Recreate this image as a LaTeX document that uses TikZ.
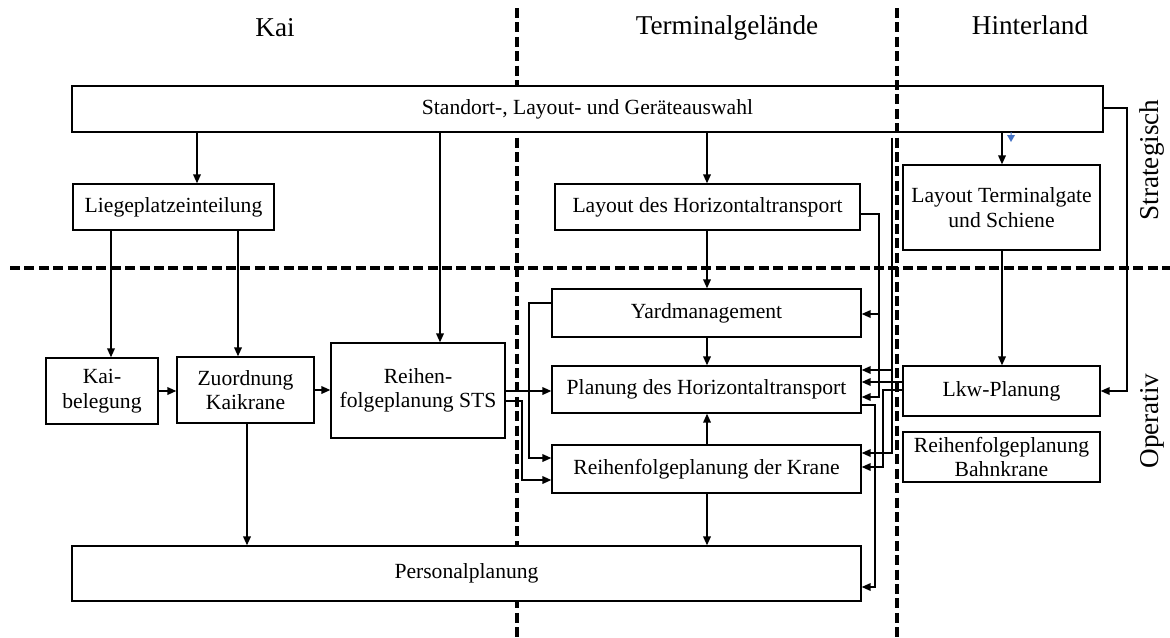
\documentclass[tikz,border=0pt]{standalone}
\usepackage{fontspec}
\setmainfont{Liberation Serif}
\usetikzlibrary{arrows.meta}
\definecolor{tipblue}{HTML}{4472C4}
\tikzset{
  box/.style={draw, line width=0.65pt, fill=white, inner sep=1pt, align=center,
              font=\fontsize{10.8}{12.2}\selectfont},
  arr/.style={line width=0.8pt, -{Triangle[length=4.5pt,width=3.8pt]}},
  divider/.style={line width=1.7pt, dash pattern=on 5pt off 2.2pt},
  zone/.style={font=\fontsize{13.6}{15}\selectfont},
}
% box from its corners (x1,y1)-(x2,y2), in pixel units
\newcommand\boxat[7][]{\node[box, #1, minimum width={(#5-#3)*0.5pt}, minimum height={(#6-#4)*0.5pt}]
  (#2) at ({(#3+#5)/2},{(#4+#6)/2}) {#7};}
\begin{document}
\begin{tikzpicture}[x=0.5pt, y=-0.5pt]
\useasboundingbox (0,0) rectangle (1170,637);

% zone dividers behind the boxes
\draw[divider] (517,8) -- (517,637);
\draw[divider] (10,268) -- (1170,268);

% zone labels
\node[zone] (zkai) at (275,28) {Kai};
\node[zone] (zterm) at (727,28) {Terminalgelände};
\node[zone] (zhint) at (1030,25) {Hinterland};
\node[zone, rotate=90] (zstrat) at (1152,160) {Strategisch};
\node[zone, rotate=90] (zop) at (1152,421) {Operativ};

% planning tasks
\boxat{std}{72}{86}{1103}{132}{Standort-, Layout- und Geräteauswahl}
\boxat{lp}{73}{184}{274}{230}{Liegeplatzeinteilung}
\boxat{lh}{555}{184}{860}{230}{Layout des Horizontaltransport}
\boxat{lt}{903}{165}{1100}{250}{Layout Terminalgate\\und Schiene}
\boxat{yd}{552}{289}{861}{337}{Yardmanagement}
\boxat{pl}{552}{366}{861}{413}{Planung des Horizontaltransport}
\boxat{kr}{552}{445}{861}{493}{Reihenfolgeplanung der Krane}
\boxat{kb}{46}{358}{158}{424}{Kai-\\belegung}
\boxat{zk}{177}{357}{314}{423}{Zuordnung\\Kaikrane}
\boxat{rs}{331}{343}{505}{438}{Reihen-\\folgeplanung STS}
\boxat{pp}{72}{546}{861}{601}{Personalplanung}
\boxat{lkw}{903}{366}{1100}{416}{Lkw-Planung}
\boxat{bk}{903}{432}{1100}{482}{Reihenfolgeplanung\\Bahnkrane}

% divider between terminal and hinterland, over the top box
\draw[divider] (897,8) -- (897,637);

% strategic level
\draw[arr] (std.south -| 197,0) -- (lp.north -| 197,0);
\draw[arr] (std.south -| 440,0) -- (rs.north -| 440,0);
\draw[arr] (std.south -| 707,0) -- (lh.north -| 707,0);
\draw[arr] (std.south -| 1002,0) -- (lt.north -| 1002,0);
\fill[tipblue] (1010.5,132) rectangle (1011.5,135)
  (1007,135) -- (1015,135) -- (1011,142) -- cycle;
\draw[arr] (std.east |- 0,108) -- (1127,108) |- (lkw.east);

% quay side
\draw[arr] (lp.south -| 111,0) -- (kb.north -| 111,0);
\draw[arr] (lp.south -| 238,0) -- (zk.north -| 238,0);
\draw[arr] (kb.east) -- (zk.west |- kb.east);
\draw[arr] (zk.east) -- (rs.west |- zk.east);
\draw[arr] (zk.south -| 247,0) -- (pp.north -| 247,0);
\draw[arr] (rs.east |- 0,391) -- (pl.west |- 0,391);
\draw[arr] (rs.east |- 0,401) -- (522,401) |- (kr.west |- 0,480);
\draw[arr] (yd.west |- 0,303) -- (529,303) |- (kr.west |- 0,458);

% yard
\draw[arr] (lh.south -| 707,0) -- (yd.north -| 707,0);
\draw[arr] (yd.south -| 707,0) -- (pl.north -| 707,0);
\draw[arr] (kr.north -| 707,0) -- (pl.south -| 707,0);
\draw[arr] (kr.south -| 707,0) -- (pp.north -| 707,0);

% feedback lines on the right
\draw[arr] (lh.east |- 0,214) -- (879,214) |- (yd.east |- 0,314);
\draw[arr] (879,314) |- (pl.east |- 0,397);
\draw[arr, shorten <=2.5pt] (std.south -| 892,0) |- (kr.east |- 0,453);
\draw[arr] (892,370) -- (pl.east |- 0,370);
\draw[arr] (lkw.west |- 0,382) -- (pl.east |- 0,382);
\draw[arr] (lkw.west |- 0,390) -- (883,390) |- (kr.east |- 0,467);
\draw[arr] (pl.east |- 0,405) -- (875,405) |- (pp.east |- 0,587);

% hinterland
\draw[arr] (lt.south -| 1002,0) -- (lkw.north -| 1002,0);
\end{tikzpicture}
\end{document}
